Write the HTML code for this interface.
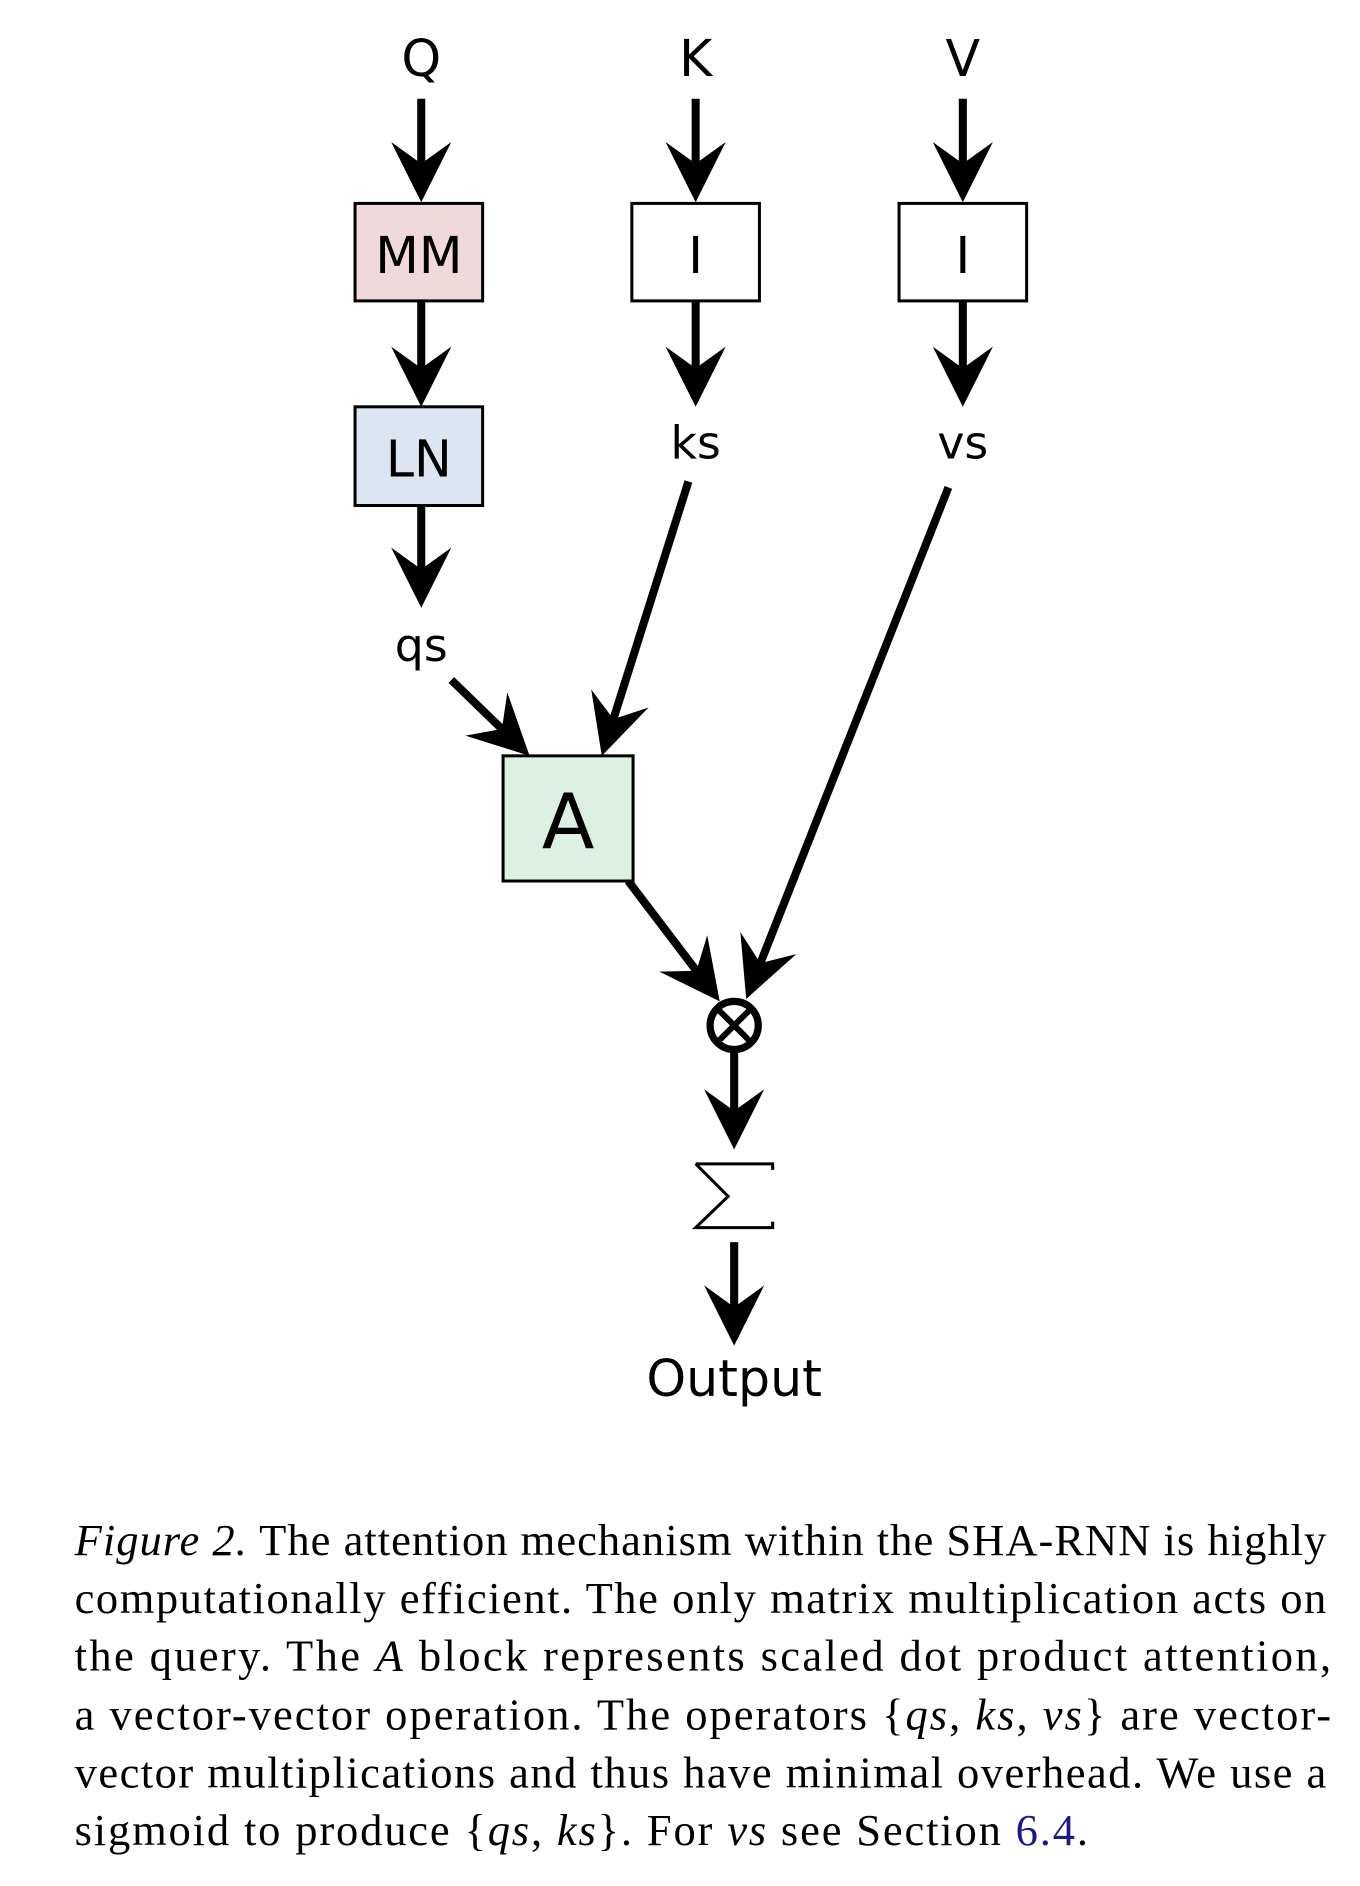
<!DOCTYPE html>
<html><head><meta charset="utf-8"><style>
html,body{margin:0;padding:0;background:#fff;}
svg{display:block;}
</style></head><body>
<svg width="1360" height="1886" viewBox="0 0 1130 1567" preserveAspectRatio="none" xmlns="http://www.w3.org/2000/svg">
<g id="arrows"></g>
<g font-family="'DejaVu Sans','Liberation Sans',sans-serif" fill="#000" text-anchor="middle">
<text x="350" y="63" font-size="42">Q</text>
<text x="578" y="63" font-size="42">K</text>
<text x="800" y="63" font-size="42">V</text>
<rect x="295" y="169" width="106" height="81" fill="#efd9da" stroke="#000" stroke-width="2.5"/>
<text x="348" y="227" font-size="42">MM</text>
<rect x="525" y="169" width="106" height="81" fill="#fff" stroke="#000" stroke-width="2.5"/>
<text x="578" y="227" font-size="42">I</text>
<rect x="747" y="169" width="106" height="81" fill="#fff" stroke="#000" stroke-width="2.5"/>
<text x="800" y="227" font-size="42">I</text>
<rect x="295" y="338" width="106" height="82" fill="#dce6f1" stroke="#000" stroke-width="2.5"/>
<text x="348" y="396" font-size="42">LN</text>
<text x="578" y="381" font-size="38">ks</text>
<text x="800" y="381" font-size="38">vs</text>
<text x="350" y="549" font-size="38">qs</text>
<rect x="418" y="628" width="108" height="104" fill="#dcf1e2" stroke="#000" stroke-width="2.5"/>
<text x="472" y="705" font-size="64">A</text>
<circle cx="610" cy="852" r="20" fill="#fff" stroke="#000" stroke-width="6"/>
<line x1="596" y1="838" x2="624" y2="866" stroke="#000" stroke-width="5"/>
<line x1="624" y1="838" x2="596" y2="866" stroke="#000" stroke-width="5"/>
<path d="M578,967 L642,967 L642,972 M578,967 L605,994 L578,1020 L642,1020 L642,1015" fill="none" stroke="#000" stroke-width="2.5"/>
<text x="610" y="1160" font-size="42">Output</text>
</g>
<g font-family="'Liberation Serif',serif" font-size="37" fill="#000">
<text x="62" y="1292" textLength="1040" lengthAdjust="spacing"><tspan font-style="italic">Figure 2.</tspan> The attention mechanism within the SHA-RNN is highly</text>
<text x="62" y="1340" textLength="1040" lengthAdjust="spacing">computationally efficient. The only matrix multiplication acts on</text>
<text x="62" y="1388" textLength="1044" lengthAdjust="spacing">the query.  The <tspan font-style="italic">A</tspan> block represents scaled dot product attention,</text>
<text x="62" y="1437" textLength="1044" lengthAdjust="spacing">a vector-vector operation. The operators {<tspan font-style="italic">qs</tspan>, <tspan font-style="italic">ks</tspan>, <tspan font-style="italic">vs</tspan>} are vector-</text>
<text x="62" y="1485" textLength="1040" lengthAdjust="spacing">vector multiplications and thus have minimal overhead. We use a</text>
<text x="62" y="1533" textLength="842" lengthAdjust="spacing">sigmoid to produce {<tspan font-style="italic">qs</tspan>, <tspan font-style="italic">ks</tspan>}. For <tspan font-style="italic">vs</tspan> see Section <tspan fill="#1a1a8c">6.4</tspan>.</text>
</g>
<script>
const arrowFrom=[[350,82],[578,82],[800,82],[350,250],[578,250],[800,250],[350,420],[375,565],[572,400],[788,405],[522,732],[610,872],[610,1032]];
const arrowTo=[[350,168],[578,168],[800,168],[350,338],[578,338],[800,338],[350,505],[440,628],[500,628],[620,830],[598,832],[610,955],[610,1118]];
const names=['arrow-q','arrow-k','arrow-v','arrow-mm-ln','arrow-ik-ks','arrow-iv-vs','arrow-ln-qs','arrow-qs-a','arrow-ks-a','arrow-vs-mult','arrow-a-mult','arrow-mult-sum','arrow-sum-output'];
const g=document.getElementById('arrows');
const NS='http://www.w3.org/2000/svg';
arrowFrom.forEach((f,i)=>{
  const t=arrowTo[i];
  const dx=t[0]-f[0],dy=t[1]-f[1],L=Math.hypot(dx,dy),ux=dx/L,uy=dy/L,px=-uy,py=ux;
  const grp=document.createElementNS(NS,'g');
  
  
  const ln=document.createElementNS(NS,'line');
  ln.setAttribute('x1',f[0]);ln.setAttribute('y1',f[1]);
  ln.setAttribute('x2',t[0]-ux*25);ln.setAttribute('y2',t[1]-uy*25);
  ln.setAttribute('stroke','#000');ln.setAttribute('stroke-width','6.7');
  grp.appendChild(ln);
  const bx=t[0]-ux*50,by=t[1]-uy*50,nx=t[0]-ux*32,ny=t[1]-uy*32;
  const p=document.createElementNS(NS,'path');
  p.setAttribute('d',`M${t[0]},${t[1]} L${bx+px*25},${by+py*25} L${nx},${ny} L${bx-px*25},${by-py*25} Z`);
  p.setAttribute('fill','#000');
  grp.appendChild(p);
  g.appendChild(grp);
});
</script>
</svg>
</body></html>
